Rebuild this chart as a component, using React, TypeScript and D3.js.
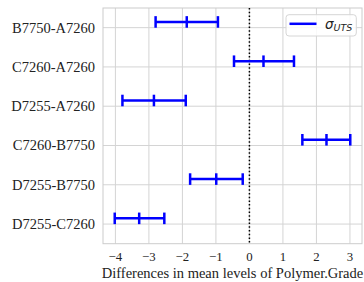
import React from "react";
import { scaleLinear, scalePoint } from "d3";

// pairwise comparisons (Tukey HSD style)
const pairs = ["B7750-A7260", "C7260-A7260", "D7255-A7260", "C7260-B7750", "D7255-B7750", "D7255-C7260"];
const meanDiff = [-1.87, 0.42, -2.85, 2.30, -0.99, -3.29];
const lower = [-2.80, -0.46, -3.79, 1.58, -1.77, -4.02];
const upper = [-0.94, 1.33, -1.90, 3.01, -0.20, -2.54];
const xTicks = [-4, -3, -2, -1, 0, 1, 2, 3];

const W = 364;
const H = 282;
const left = 103, right = 362, top = 8, bottom = 243.7;
const serif = "Liberation Serif, Tinos, Times New Roman, Times, DejaVu Serif, serif";

export default function App() {
    const xScale = scaleLinear().domain([-4.37, 3.36]).range([left, right]);
    const yScale = scalePoint<string>().domain(pairs).range([top, bottom]).padding(0.5);
    const barShift = yScale.step() * 0.145;
    const cap = 5.8;

    return (
        <svg width={W} height={H} style={{ position: "absolute", left: 0, top: 0 }}>
            <rect x={0} y={0} width={W} height={H} fill="#fff" />
            {/* grid */}
            {xTicks.map(t => (
                <line key={"gx" + t} x1={xScale(t)} x2={xScale(t)} y1={top} y2={bottom} stroke="#d4d4d4" strokeWidth={1} />
            ))}
            {pairs.map(p => (
                <line key={"gy" + p} x1={left} x2={right} y1={yScale(p)} y2={yScale(p)} stroke="#d4d4d4" strokeWidth={1} />
            ))}
            <rect x={left} y={top} width={right - left} height={bottom - top} fill="none" stroke="#cccccc" strokeWidth={1} />

            {/* zero reference line */}
            <line x1={xScale(0)} x2={xScale(0)} y1={top} y2={bottom} stroke="#000" strokeWidth={1.5} strokeDasharray="1.5 2.2" />

            {/* error bars */}
            {pairs.map((p, i) => {
                const y = (yScale(p) as number) - barShift;
                return (
                    <g key={p} stroke="#0000ff" strokeWidth={2.5}>
                        <line x1={xScale(lower[i])} x2={xScale(upper[i])} y1={y} y2={y} />
                        {[lower[i], meanDiff[i], upper[i]].map((v, j) => (
                            <line key={j} x1={xScale(v)} x2={xScale(v)} y1={y - cap} y2={y + cap} />
                        ))}
                    </g>
                );
            })}

            {/* y tick labels */}
            {pairs.map(p => (
                <text key={"yl" + p} x={95} y={(yScale(p) as number) + 5} textAnchor="end"
                      style={{ fontFamily: serif, fontSize: "14.5px" }} fill="#222">{p}</text>
            ))}

            {/* x tick labels */}
            {xTicks.map(t => (
                <text key={"xl" + t} x={xScale(t)} y={260.7} textAnchor="middle"
                      style={{ fontFamily: serif, fontSize: "12.8px" }} fill="#222">{t < 0 ? "\u2212" + Math.abs(t) : String(t)}</text>
            ))}

            <text x={(left + right) / 2} y={277.7} textAnchor="middle" style={{ fontFamily: serif, fontSize: "14.5px" }} fill="#222">
                Differences in mean levels of Polymer.Grade
            </text>

            {/* legend */}
            <rect x={286} y={14.7} width={70.3} height={21.3} rx={3} fill="#fff" fillOpacity={0.85} stroke="#d6d6d6" strokeWidth={1} />
            <line x1={289.5} x2={316.5} y1={23.8} y2={23.8} stroke="#0000ff" strokeWidth={2.5} />
            <text x={325} y={28.7} style={{ fontFamily: "DejaVu Sans, sans-serif", fontStyle: "italic", fontSize: "13.5px" }} fill="#222">
                σ<tspan fontSize={9.5} dy={2.5}>UTS</tspan>
            </text>
        </svg>
    );
}
